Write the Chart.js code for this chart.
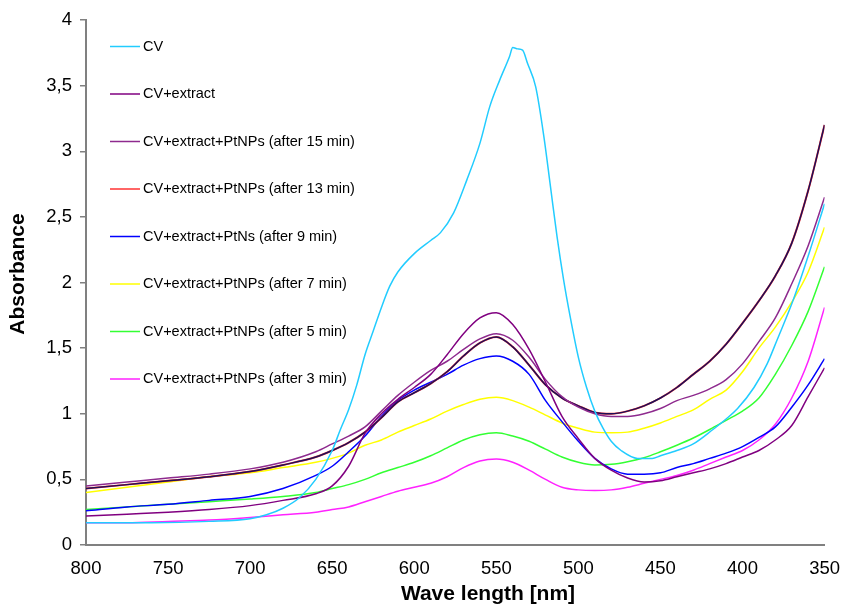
<!DOCTYPE html>
<html lang="en">
<head>
  <meta charset="UTF-8">
  <title>Absorbance spectra</title>
  <script src="https://cdn.jsdelivr.net/npm/chart.js"></script>
  <style>
    body { margin: 0; background: #fff; }
    canvas { display: block; }
  </style>
</head>
<body>
  <canvas id="chart" width="845" height="605"></canvas>

  <script>
    // wavelengths (nm) shared by the extract / PtNPs series
    const wave = [800, 775, 750, 725, 700, 680, 660, 650, 640, 630, 620, 610, 600, 590, 580, 570, 560, 550, 540, 530,
                  520, 510, 500, 490, 480, 470, 460, 450, 440, 430, 420, 410, 400, 390, 380, 370, 360, 350];

    // CV alone has a sharper peak, so it gets its own wavelength list
    const cvWave = [800, 760, 725, 700, 690, 680, 670, 660, 650, 645, 640, 635, 630, 625, 620, 615, 610, 600, 590, 584,
                    576, 568, 560, 554, 548, 542, 540, 537, 534, 531, 526, 521, 517, 513, 509, 505, 500, 495, 490, 485,
                    480, 474, 464, 455, 450, 440, 430, 418, 410, 403, 393, 385, 379, 369, 359, 350];
    const cvAbs = [0.17, 0.17, 0.18, 0.20, 0.23, 0.28, 0.36, 0.50, 0.72, 0.88, 1.03, 1.22, 1.45, 1.63, 1.81, 1.97, 2.08, 2.22, 2.32, 2.38,
                   2.53, 2.78, 3.06, 3.34, 3.54, 3.72, 3.79, 3.78, 3.77, 3.67, 3.49, 3.11, 2.73, 2.35, 2.02, 1.74, 1.43, 1.20, 1.02, 0.89,
                   0.79, 0.72, 0.66, 0.66, 0.68, 0.72, 0.77, 0.88, 0.96, 1.04, 1.20, 1.38, 1.56, 1.87, 2.24, 2.60];

    const extract = [0.22, 0.235, 0.25, 0.27, 0.30, 0.34, 0.39, 0.45, 0.60, 0.85, 1.00, 1.11, 1.20, 1.30, 1.45, 1.61, 1.73, 1.77, 1.68, 1.49,
                     1.24, 0.98, 0.81, 0.66, 0.57, 0.51, 0.48, 0.49, 0.52, 0.55, 0.58, 0.62, 0.67, 0.72, 0.80, 0.91, 1.13, 1.35];
    const min15 = [0.45, 0.48, 0.51, 0.54, 0.58, 0.63, 0.71, 0.77, 0.83, 0.90, 1.02, 1.14, 1.24, 1.33, 1.40, 1.49, 1.57, 1.61, 1.56, 1.43,
                   1.26, 1.13, 1.05, 1.00, 0.98, 0.98, 1.00, 1.04, 1.10, 1.14, 1.19, 1.26, 1.38, 1.55, 1.73, 1.99, 2.28, 2.65];
    const min13 = [0.43, 0.46, 0.49, 0.52, 0.56, 0.61, 0.67, 0.72, 0.78, 0.86, 0.97, 1.09, 1.16, 1.23, 1.32, 1.44, 1.54, 1.585, 1.51, 1.37,
                   1.22, 1.12, 1.06, 1.01, 1.00, 1.02, 1.06, 1.12, 1.20, 1.30, 1.40, 1.53, 1.69, 1.86, 2.05, 2.30, 2.70, 3.20];
    const min9 = [0.26, 0.29, 0.31, 0.34, 0.37, 0.43, 0.53, 0.60, 0.71, 0.83, 0.98, 1.10, 1.18, 1.24, 1.30, 1.37, 1.42, 1.44, 1.40, 1.30,
                  1.10, 0.94, 0.79, 0.66, 0.58, 0.54, 0.54, 0.55, 0.59, 0.62, 0.66, 0.70, 0.75, 0.82, 0.90, 1.05, 1.22, 1.42];
    const min7 = [0.40, 0.44, 0.48, 0.52, 0.55, 0.59, 0.63, 0.66, 0.70, 0.76, 0.80, 0.86, 0.91, 0.96, 1.02, 1.07, 1.11, 1.125, 1.10, 1.05,
                  0.99, 0.93, 0.89, 0.86, 0.855, 0.86, 0.89, 0.93, 0.98, 1.03, 1.11, 1.18, 1.32, 1.50, 1.66, 1.85, 2.08, 2.42];
    const min5 = [0.27, 0.29, 0.31, 0.33, 0.35, 0.37, 0.40, 0.43, 0.46, 0.50, 0.55, 0.59, 0.63, 0.68, 0.74, 0.80, 0.84, 0.855, 0.83, 0.79,
                  0.73, 0.67, 0.63, 0.61, 0.615, 0.635, 0.665, 0.71, 0.76, 0.815, 0.88, 0.95, 1.02, 1.12, 1.30, 1.52, 1.78, 2.12];
    const min3 = [0.17, 0.17, 0.18, 0.19, 0.21, 0.23, 0.25, 0.27, 0.29, 0.33, 0.37, 0.41, 0.44, 0.47, 0.52, 0.59, 0.64, 0.655, 0.63, 0.57,
                  0.50, 0.44, 0.42, 0.415, 0.42, 0.44, 0.47, 0.50, 0.53, 0.57, 0.62, 0.67, 0.72, 0.80, 0.92, 1.12, 1.40, 1.81];

    const seriesLabels = [
      "CV",
      "CV+extract",
      "CV+extract+PtNPs (after 15 min)",
      "CV+extract+PtNPs (after 13 min)",
      "CV+extract+PtNs (after 9 min)",
      "CV+extract+PtNPs (after 7 min)",
      "CV+extract+PtNPs (after 5 min)",
      "CV+extract+PtNPs (after 3 min)"
    ];

    const FONT = 'Arial, "Liberation Sans", sans-serif';

    function points(xs, ys) {
      return xs.map((x, i) => ({ x: x, y: ys[i] }));
    }

    function line(label, xs, ys, color, width) {
      return {
        label: label,
        data: points(xs, ys),
        borderColor: color,
        backgroundColor: color,
        borderWidth: width || 1.5,
        pointRadius: 0,
        fill: false,
        cubicInterpolationMode: 'monotone'
      };
    }

    // the 13 min curve shows up dark in the plot with red peeking through
    const overlay13 = line(null, wave, min13, '#1c1058', 1.5);

    const datasets = [
      line(seriesLabels[0], cvWave, cvAbs, '#22ccff'),
      line(seriesLabels[1], wave, extract, '#800080'),
      line(seriesLabels[2], wave, min15, '#8e2a8e'),
      overlay13,
      line(seriesLabels[3], wave, min13, '#ff3333', 2),
      line(seriesLabels[4], wave, min9, '#0000ff'),
      line(seriesLabels[5], wave, min7, '#ffff00'),
      line(seriesLabels[6], wave, min5, '#33ff33'),
      line(seriesLabels[7], wave, min3, '#ff22ff')
    ];

    // legend inside the plot + axis titles, placed like the original
    const decorations = {
      id: 'decorations',
      afterDraw(chart) {
        const ctx = chart.ctx;
        ctx.save();
        ctx.font = '14.5px ' + FONT;
        ctx.textBaseline = 'middle';
        ctx.textAlign = 'left';
        ctx.fillStyle = '#000';
        chart.data.datasets.filter(d => d.label).forEach((ds, i) => {
          const y = 46.5 + i * 47.5;
          ctx.strokeStyle = ds.borderColor;
          ctx.lineWidth = 1.5;
          ctx.beginPath();
          ctx.moveTo(110, y);
          ctx.lineTo(140, y);
          ctx.stroke();
          ctx.fillText(ds.label, 143, y);
        });

        ctx.font = 'bold 21px ' + FONT;
        ctx.textAlign = 'center';
        ctx.fillText('Wave length [nm]', 488, 594);
        ctx.translate(18, 274);
        ctx.rotate(-Math.PI / 2);
        ctx.fillText('Absorbance', 0, 0);
        ctx.restore();
      }
    };

    new Chart(document.getElementById('chart').getContext('2d'), {
      type: 'line',
      data: { datasets: datasets },
      plugins: [decorations],
      options: {
        responsive: false,
        animation: false,
        devicePixelRatio: 1,
        layout: { padding: { top: 20, right: 19, left: 0, bottom: 0 } },
        plugins: {
          legend: { display: false },
          tooltip: { enabled: false }
        },
        scales: {
          x: {
            type: 'linear',
            min: 350,
            max: 800,
            reverse: true,
            ticks: { stepSize: 50, color: '#000', font: { size: 18.5, family: FONT }, padding: 5, maxRotation: 0 },
            grid: { display: false },
            border: { display: true, color: '#808080', width: 2 },
            afterFit: s => { s.height = 60; }
          },
          y: {
            min: 0,
            max: 4,
            ticks: {
              stepSize: 0.5,
              color: '#000',
              font: { size: 18.5, family: FONT },
              padding: 8,
              callback: v => String(v).replace('.', ',')
            },
            grid: { display: true, drawOnChartArea: false, drawTicks: true, tickLength: 6, color: '#808080', lineWidth: 1.5 },
            border: { display: true, color: '#808080', width: 2 },
            afterFit: s => { s.width = 86; }
          }
        }
      }
    });
  </script>
</body>
</html>
